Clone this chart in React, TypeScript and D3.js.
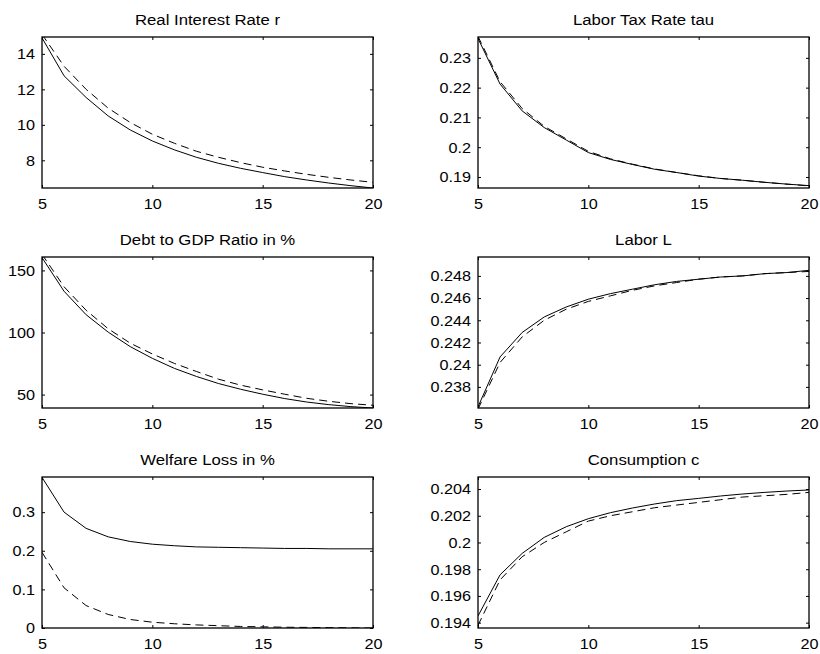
import React, { useEffect, useRef } from 'react';
import * as d3 from 'd3';

// horizon (x axis) shared by all panels
const years = [5, 6, 7, 8, 9, 10, 11, 12, 13, 14, 15, 16, 17, 18, 19, 20];
const xTicks = [5, 10, 15, 20];

// Real interest rate r
const rateSolid = [14.9, 12.76, 11.54, 10.5, 9.71, 9.09, 8.59, 8.17, 7.83, 7.55, 7.31, 7.08, 6.89, 6.72, 6.57, 6.44];
const rateDashed = [15.1, 13.3, 12.0, 10.94, 10.13, 9.47, 8.96, 8.51, 8.17, 7.87, 7.61, 7.4, 7.21, 7.04, 6.89, 6.76];

// Labor tax rate tau
const tauSolid = [0.2365, 0.2212, 0.2122, 0.2066, 0.2024, 0.1982, 0.1959, 0.1942, 0.1926, 0.1915, 0.1903, 0.1895, 0.1889, 0.1882, 0.1876, 0.1871];
const tauDashed = [0.2372, 0.222, 0.213, 0.207, 0.2028, 0.1986, 0.1961, 0.1943, 0.1927, 0.1915, 0.1904, 0.1895, 0.1889, 0.1882, 0.1876, 0.187];

// Debt to GDP ratio in %
const debtSolid = [160.3, 133.2, 114.3, 100.3, 88.6, 79.2, 71.1, 64.6, 58.9, 54.3, 50.3, 46.8, 44.0, 41.9, 40.3, 39.2];
const debtDashed = [163, 136.8, 117.9, 103.0, 91.4, 82.7, 75.1, 68.6, 62.4, 57.6, 53.8, 50.3, 47.0, 44.6, 42.7, 41.4];

// Labor L
const laborSolid = [0.2362, 0.2407, 0.2429, 0.2443, 0.2452, 0.2459, 0.2464, 0.2468, 0.2472, 0.2475, 0.2477, 0.2479, 0.248, 0.2482, 0.2483, 0.2485];
const laborDashed = [0.236, 0.2402, 0.2425, 0.244, 0.245, 0.2457, 0.2462, 0.2467, 0.2471, 0.2474, 0.2477, 0.2479, 0.248, 0.2482, 0.2483, 0.2484];

// Welfare loss in %
const welfareSolid = [0.39, 0.3, 0.258, 0.236, 0.224, 0.217, 0.213, 0.21, 0.209, 0.208, 0.207, 0.206, 0.206, 0.205, 0.205, 0.205];
const welfareDashed = [0.196, 0.104, 0.058, 0.035, 0.022, 0.015, 0.011, 0.008, 0.006, 0.004, 0.003, 0.002, 0.0015, 0.001, 0.0005, 0.0];

// Consumption c
const consSolid = [0.1945, 0.19758, 0.19918, 0.20038, 0.20118, 0.20178, 0.20223, 0.20258, 0.20288, 0.20313, 0.2033, 0.20348, 0.20363, 0.20375, 0.20385, 0.20393];
const consDashed = [0.1938, 0.1972, 0.19893, 0.2, 0.2008, 0.2016, 0.202, 0.2023, 0.2026, 0.2028, 0.203, 0.2032, 0.2034, 0.2035, 0.2036, 0.20375];

const titles = ['Real Interest Rate r', 'Labor Tax Rate tau', 'Debt to GDP Ratio in %', 'Labor L', 'Welfare Loss in %', 'Consumption c'];

const panels = [
    { title: titles[0], solid: rateSolid, dashed: rateDashed, yDomain: [6.44, 14.95], yTicks: [8, 10, 12, 14] },
    { title: titles[1], solid: tauSolid, dashed: tauDashed, yDomain: [0.1863, 0.237], yTicks: [0.19, 0.2, 0.21, 0.22, 0.23] },
    { title: titles[2], solid: debtSolid, dashed: debtDashed, yDomain: [39.2, 160.8], yTicks: [50, 100, 150] },
    { title: titles[3], solid: laborSolid, dashed: laborDashed, yDomain: [0.2361, 0.2497], yTicks: [0.238, 0.24, 0.242, 0.244, 0.246, 0.248] },
    { title: titles[4], solid: welfareSolid, dashed: welfareDashed, yDomain: [0, 0.391], yTicks: [0, 0.1, 0.2, 0.3] },
    { title: titles[5], solid: consSolid, dashed: consDashed, yDomain: [0.1936, 0.2049], yTicks: [0.194, 0.196, 0.198, 0.2, 0.202, 0.204] },
];

const colLefts = [42, 478];
const rowTops = [37, 257, 477];
const boxW = 331;
const boxH = 151;
const font = 'Liberation Sans, Arial, Helvetica, sans-serif';
const stretch = 1.08; // glyphs in the picture are a bit wider than Arial

const App = () => {
    const svgRef = useRef(null);

    useEffect(() => {
        const svg = d3.select(svgRef.current);
        svg.selectAll('*').remove();

        const widen = (sel) => {
            sel.selectAll('text')
                .attr('transform', `scale(${stretch},1)`)
                .attr('x', function () { return (+d3.select(this).attr('x') || 0) / stretch; });
        };

        panels.forEach((p, i) => {
            const left = colLefts[i % 2];
            const top = rowTops[Math.floor(i / 2)];

            const x = d3.scaleLinear().domain([5, 20]).range([0, boxW]);
            const y = d3.scaleLinear().domain(p.yDomain).range([boxH, 0]);

            const g = svg.append('g').attr('transform', `translate(${left},${top})`);

            g.append('defs').append('clipPath').attr('id', `clip${i}`)
                .append('rect').attr('width', boxW).attr('height', boxH);

            g.append('rect')
                .attr('width', boxW).attr('height', boxH)
                .attr('fill', '#fff');

            const line = d3.line().x((d, j) => x(years[j])).y(d => y(d));

            const plot = g.append('g').attr('clip-path', `url(#clip${i})`);
            plot.append('path')
                .datum(p.solid)
                .attr('d', line)
                .attr('fill', 'none')
                .attr('stroke', '#000')
                .attr('stroke-width', 1);
            plot.append('path')
                .datum(p.dashed)
                .attr('d', line)
                .attr('fill', 'none')
                .attr('stroke', '#000')
                .attr('stroke-width', 1)
                .attr('stroke-dasharray', '8,5');

            const fmt = d => String(+(+d).toFixed(3));

            // bottom + left axes with labels, ticks pointing inward
            const bottom = g.append('g')
                .attr('transform', `translate(0,${boxH})`)
                .call(d3.axisBottom(x).tickValues(xTicks).tickSizeInner(-3).tickSizeOuter(0).tickPadding(10).tickFormat(fmt));
            const leftAx = g.append('g')
                .call(d3.axisLeft(y).tickValues(p.yTicks).tickSizeInner(-3).tickSizeOuter(0).tickPadding(7).tickFormat(fmt));

            // top + right: tick marks only
            const topAx = g.append('g')
                .call(d3.axisTop(x).tickValues(xTicks).tickSizeInner(-3).tickSizeOuter(0).tickFormat(() => ''));
            const rightAx = g.append('g')
                .attr('transform', `translate(${boxW},0)`)
                .call(d3.axisRight(y).tickValues(p.yTicks).tickSizeInner(-3).tickSizeOuter(0).tickFormat(() => ''));

            [bottom, leftAx, topAx, rightAx].forEach(a => {
                a.select('.domain').remove();
                a.attr('font-size', 15).attr('font-family', font);
                a.selectAll('text').attr('fill', '#000');
            });
            widen(bottom);
            widen(leftAx);

            g.append('rect')
                .attr('width', boxW).attr('height', boxH)
                .attr('fill', 'none')
                .attr('stroke', '#000')
                .attr('stroke-width', 1.3);

            g.append('text')
                .attr('transform', `scale(${stretch},1)`)
                .attr('x', boxW / 2 / stretch)
                .attr('y', -12)
                .attr('text-anchor', 'middle')
                .attr('font-family', font)
                .attr('font-size', 15.5)
                .attr('fill', '#000')
                .text(p.title);
        });
    }, []);

    return (
        <svg ref={svgRef} width={820} height={654}
            style={{ position: 'absolute', left: 0, top: 0, background: '#fff' }}></svg>
    );
};

export default App;
